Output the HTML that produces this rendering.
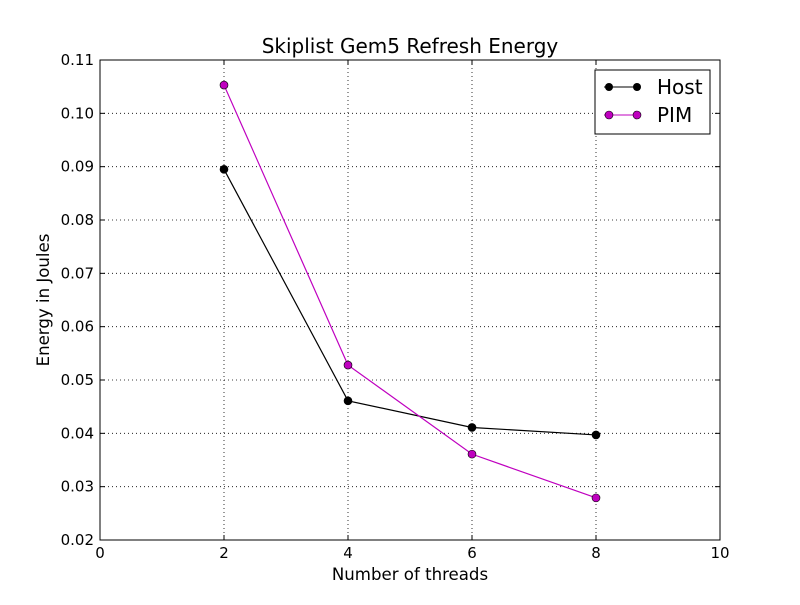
<!DOCTYPE html>
<html><head><meta charset="utf-8"><style>
body{margin:0;background:#fff;}
svg text{font-family:"DejaVu Sans","Liberation Sans",sans-serif;}
</style></head><body>
<svg id="chart" width="800" height="600" xmlns="http://www.w3.org/2000/svg">
<rect width="800" height="600" fill="#fff"/>
<g id="grid"></g>
<g id="ticks"></g>
<g id="series"></g>
<rect x="100" y="60" width="620" height="480" fill="none" stroke="#000" stroke-width="1"/>
<text x="410" y="53" font-size="20" text-anchor="middle">Skiplist Gem5 Refresh Energy</text>
<text x="410" y="580" font-size="16.6" text-anchor="middle">Number of threads</text>
<text x="0" y="0" font-size="16.6" text-anchor="middle" transform="translate(49,300) rotate(-90)">Energy in Joules</text>
<g>
<rect x="595" y="70" width="115" height="64" fill="#fff" stroke="#000"/>
<g>
<line x1="604" y1="87" x2="638" y2="87" stroke="#000"/><circle cx="609" cy="87" r="4" fill="#000"/><circle cx="637" cy="87" r="4" fill="#000"/>
<text x="657" y="94" font-size="20">Host</text></g>
<g>
<line x1="604" y1="115" x2="638" y2="115" stroke="#bf00bf"/><circle cx="609" cy="115" r="4" fill="#bf00bf" stroke="#000" stroke-width="0.6"/><circle cx="637" cy="115" r="4" fill="#bf00bf" stroke="#000" stroke-width="0.6"/>
<text x="657" y="122" font-size="20">PIM</text></g>
</g>
</svg>
<script>
const threads=[2,4,6,8];
const hostValues=[0.0895,0.0461,0.0411,0.0397];
const pimValues=[0.1053,0.0528,0.0361,0.0279];
const xTicks=[0,2,4,6,8,10];
const yTicks=[0.02,0.03,0.04,0.05,0.06,0.07,0.08,0.09,0.10,0.11];
const NS="http://www.w3.org/2000/svg";
const L=100,R=720,T=60,B=540;
function xs(v){return L+(v-0)/(10-0)*(R-L);}
function ys(v){return B-(v-0.02)/(0.11-0.02)*(B-T);}
function mk(tag,attrs,parent){const e=document.createElementNS(NS,tag);for(const k in attrs)e.setAttribute(k,attrs[k]);parent.appendChild(e);return e;}
const grid=document.getElementById('grid'),ticks=document.getElementById('ticks'),ser=document.getElementById('series');
xTicks.forEach(v=>{const x=xs(v);
 const g=mk('line',{x1:x,x2:x,y1:T,y2:B,stroke:'#000','stroke-dasharray':'1,3','stroke-width':0.8},grid);
 
 
 mk('line',{x1:x,x2:x,y1:B,y2:B-5,stroke:'#000'},ticks);mk('line',{x1:x,x2:x,y1:T,y2:T+5,stroke:'#000'},ticks);
 const t=mk('text',{x:x,y:B+18,'font-size':15,'text-anchor':'middle'},ticks);t.textContent=v;
 
 
});
yTicks.forEach(v=>{const y=ys(v);
 const g=mk('line',{x1:L,x2:R,y1:y,y2:y,stroke:'#000','stroke-dasharray':'1,3','stroke-width':0.8},grid);
 
 
 mk('line',{x1:L,x2:L+5,y1:y,y2:y,stroke:'#000'},ticks);mk('line',{x1:R,x2:R-5,y1:y,y2:y,stroke:'#000'},ticks);
 const t=mk('text',{x:L-6,y:y+5,'font-size':15,'text-anchor':'end'},ticks);t.textContent=v.toFixed(2);
 
 
});
function draw(vals,color,name){
 const pts=threads.map((t,i)=>xs(t)+','+ys(vals[i])).join(' ');
 const pl=mk('polyline',{points:pts,fill:'none',stroke:color,'stroke-width':1.2},ser);
 
 
 threads.forEach((t,i)=>{const c=mk('circle',{cx:xs(t),cy:ys(vals[i]),r:4,fill:color,stroke:'#000','stroke-width':0.6},ser);
  
  });
}
draw(hostValues,'#000','host');
draw(pimValues,'#bf00bf','pim');
</script>
</body></html>
